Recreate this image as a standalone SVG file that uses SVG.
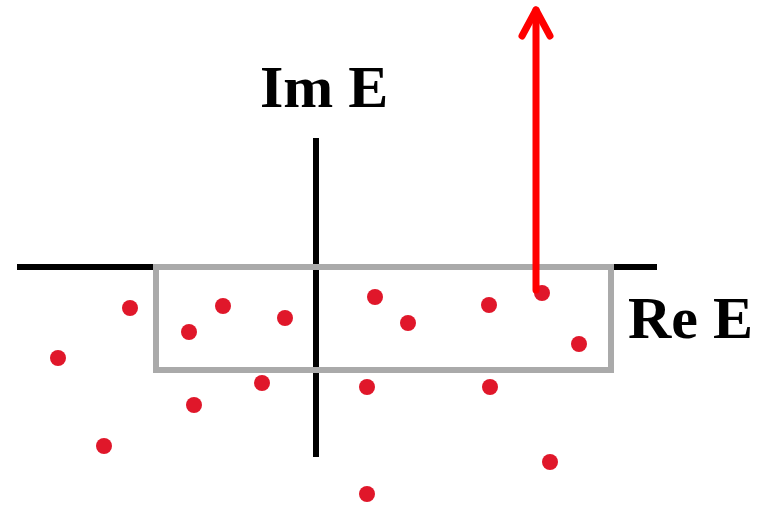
<svg xmlns="http://www.w3.org/2000/svg" width="763" height="506" viewBox="0 0 763 506">
<style>
.ax{stroke:#000;stroke-width:6;fill:none}
.box{stroke:#aaaaaa;stroke-width:6;fill:none}
.dot{fill:#e0172a}
.lbl{font-family:"Liberation Serif",serif;font-weight:bold;font-size:60px;fill:#000}
.arr{stroke:#ff0000;stroke-width:7;fill:none;stroke-linecap:round;stroke-linejoin:round}
</style>
<rect width="763" height="506" fill="#fff"/>
<g id="axes">
<line class="ax" x1="17" y1="267" x2="657" y2="267"/>
<line class="ax" x1="316" y1="138" x2="316" y2="457"/>
</g>
<g id="box"><rect class="box" x="156" y="267" width="455" height="103"/></g>
<g id="labels">
<text class="lbl" x="260" y="107">Im E</text>
<text class="lbl" x="628" y="338">Re E</text>
</g>
<g id="points">
<circle class="dot" cx="130" cy="308" r="8"/>
<circle class="dot" cx="223" cy="306" r="8"/>
<circle class="dot" cx="189" cy="332" r="8"/>
<circle class="dot" cx="285" cy="318" r="8"/>
<circle class="dot" cx="375" cy="297" r="8"/>
<circle class="dot" cx="408" cy="323" r="8"/>
<circle class="dot" cx="489" cy="305" r="8"/>
<circle class="dot" cx="542" cy="293" r="8"/>
<circle class="dot" cx="579" cy="344" r="8"/>
<circle class="dot" cx="58" cy="358" r="8"/>
<circle class="dot" cx="262" cy="383" r="8"/>
<circle class="dot" cx="194" cy="405" r="8"/>
<circle class="dot" cx="367" cy="387" r="8"/>
<circle class="dot" cx="490" cy="387" r="8"/>
<circle class="dot" cx="104" cy="446" r="8"/>
<circle class="dot" cx="550" cy="462" r="8"/>
<circle class="dot" cx="367" cy="494" r="8"/>
</g>
<g id="connectors">
<line class="arr" x1="536" y1="290" x2="536" y2="10"/>
<polyline class="arr" points="522,36 536,10 550,36"/>
</g>
</svg>
